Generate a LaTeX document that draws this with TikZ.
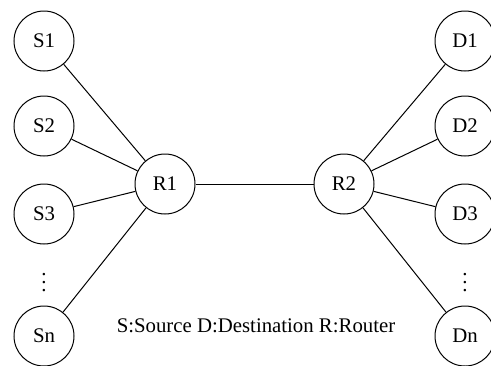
\documentclass[tikz,border=0pt]{standalone}
\usepackage{fontspec}
\setmainfont{Liberation Serif}
\usepackage{tikz}
\tikzstyle{host} = [circle, draw, minimum size=30pt, inner sep=0pt]

\begin{document}
\begin{tikzpicture}[x=0.5pt,y=-0.5pt,line width=0.5pt,font=\fontsize{10.4pt}{12pt}\selectfont]
\useasboundingbox (0,0) rectangle (491,365);

% routers
\node[host] (r1) at (165,184) {R1};
\node[host] (r2) at (344,184) {R2};

% sources
\node[host] (s1) at (44,41) {S1};
\node[host] (s2) at (44,126) {S2};
\node[host] (s3) at (44,214) {S3};
\node (sdots) at (44,277) {$\vdots$};
\node[host] (sn) at (44,336) {Sn};

% destinations
\node[host] (d1) at (465,41) {D1};
\node[host] (d2) at (465,126) {D2};
\node[host] (d3) at (465,214) {D3};
\node (ddots) at (465,277) {$\vdots$};
\node[host] (dn) at (465,336) {Dn};

\node (legend) at (256,326) {S:Source D:Destination R:Router};

\draw (r1) -- (r2);
\foreach \n in {s1,s2,s3,sn} \draw (\n) -- (r1);
\foreach \n in {d1,d2,d3,dn} \draw (\n) -- (r2);

\end{tikzpicture}
\end{document}
